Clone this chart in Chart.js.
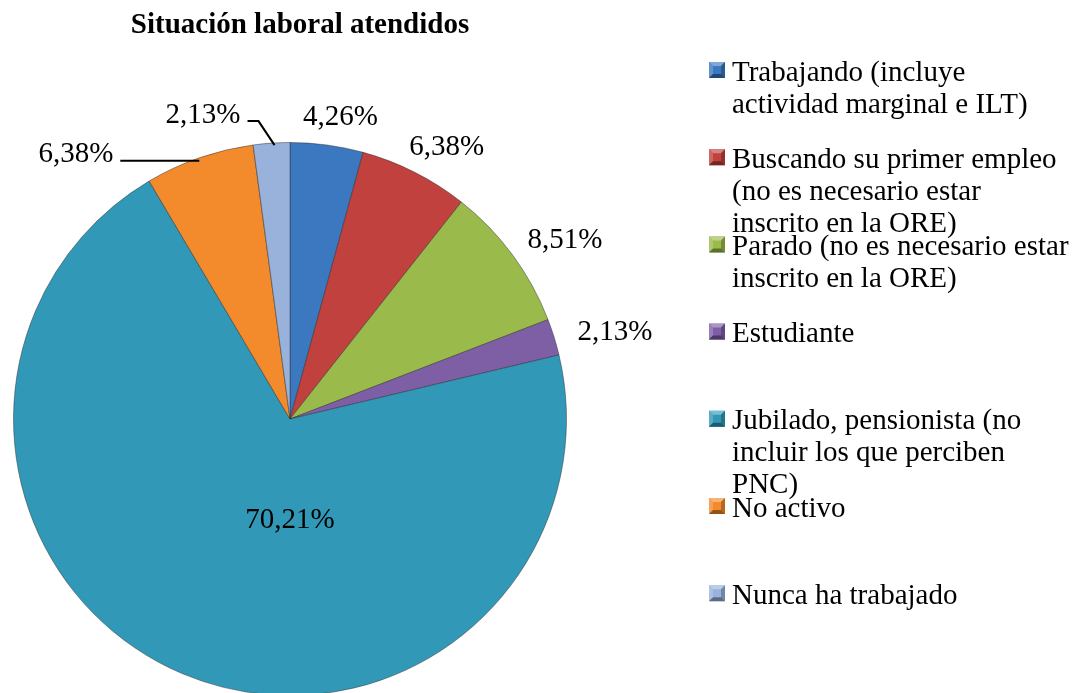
<!DOCTYPE html>
<html>
<head>
<meta charset="utf-8">
<script src="https://cdn.jsdelivr.net/npm/chart.js@4.4.0/dist/chart.umd.min.js"></script>
<style>
  html, body { margin: 0; padding: 0; background: #fff; overflow: hidden; }
  #wrap { position: relative; width: 1077px; height: 693px; overflow: hidden; }
  canvas { position: absolute; left: 0; top: 0; }
</style>
</head>
<body>
<div id="wrap"><canvas id="pie" width="1077" height="700"></canvas></div>
<script>
/* Situación laboral atendidos — pie with right-hand legend */

const title = 'Situación laboral atendidos';

const categories = [
  'Trabajando (incluye actividad marginal e ILT)',
  'Buscando su primer empleo (no es necesario estar inscrito en la ORE)',
  'Parado (no es necesario estar inscrito en la ORE)',
  'Estudiante',
  'Jubilado, pensionista (no incluir los que perciben PNC)',
  'No activo',
  'Nunca ha trabajado'
];

// legend text, broken the way the original wraps it
const legendLines = [
  ['Trabajando (incluye', 'actividad marginal e ILT)'],
  ['Buscando su primer empleo', '(no es necesario estar', 'inscrito en la ORE)'],
  ['Parado (no es necesario estar', 'inscrito en la ORE)'],
  ['Estudiante'],
  ['Jubilado, pensionista (no', 'incluir los que perciben', 'PNC)'],
  ['No activo'],
  ['Nunca ha trabajado']
];

const percents = [4.26, 6.38, 8.51, 2.13, 70.21, 6.38, 2.13];

const sliceColors = ['#3b78bf', '#c0413d', '#9aba4b', '#7e5fa5', '#3199b7', '#f38a2c', '#98b2dc'];

const SERIF = "'Liberation Serif', 'Times New Roman', serif";

function shade(hex, amt) {
  const n = parseInt(hex.slice(1), 16);
  let r = (n >> 16) & 255, g = (n >> 8) & 255, b = n & 255;
  const f = c => Math.max(0, Math.min(255, Math.round(amt > 0 ? c + (255 - c) * amt : c * (1 + amt))));
  return `rgb(${f(r)},${f(g)},${f(b)})`;
}

// outer rim bevel as a radial gradient
function sliceFill(ctx) {
  const chart = ctx.chart;
  const base = sliceColors[ctx.dataIndex];
  const arc = chart.getDatasetMeta(0).data[ctx.dataIndex];
  if (!arc || !arc.outerRadius) return base;
  const g = chart.ctx.createRadialGradient(arc.x, arc.y, 0, arc.x, arc.y, arc.outerRadius);
  g.addColorStop(0, shade(base, 0.04));
  g.addColorStop(0.93, base);
  g.addColorStop(0.965, shade(base, 0.2));
  g.addColorStop(1, shade(base, -0.25));
  return g;
}

const fmt = v => v.toFixed(2).replace('.', ',') + '%';

const decorations = {
  id: 'decorations',
  afterDatasetsDraw(chart) {
    const c = chart.ctx;
    const arcs = chart.getDatasetMeta(0).data;
    c.save();

    // title
    c.fillStyle = '#000';
    c.font = `bold 29px ${SERIF}`;
    c.textAlign = 'center';
    c.textBaseline = 'middle';
    c.fillText(title, 300, 26);

    // data labels
    c.font = `29px ${SERIF}`;
    arcs.forEach((arc, i) => {
      const mid = (arc.startAngle + arc.endAngle) / 2;
      const cos = Math.cos(mid), sin = Math.sin(mid);
      const r = arc.outerRadius;
      const txt = fmt(percents[i]);
      const w = c.measureText(txt).width;
      c.strokeStyle = '#000';
      c.lineWidth = 2;
      if (i <= 3) {
        const ax = arc.x + (r + 20) * cos, ay = arc.y + (r + 20) * sin;
        c.textAlign = 'center';
        c.fillText(txt, ax + (w / 2) * cos + 6, ay + 13 * sin + 5);
      } else if (i === 4) {
        c.textAlign = 'center';
        c.fillText(txt, arc.x, arc.y + 101);
      } else if (i === 5) {
        const ex = arc.x + r * cos, ey = arc.y + r * sin + 3;
        c.beginPath();
        c.moveTo(ex, ey);
        c.lineTo(ex - 79, ey);
        c.stroke();
        c.textAlign = 'right';
        c.fillText(txt, ex - 86, ey - 6);
      } else {
        const ex = arc.x + r * cos + 3, ey = arc.y + r * sin + 2;
        c.beginPath();
        c.moveTo(ex, ey);
        c.lineTo(ex - 16, ey - 24);
        c.lineTo(ex - 27, ey - 24);
        c.stroke();
        c.textAlign = 'right';
        c.fillText(txt, ex - 34, ey - 30);
      }
    });

    // legend
    const lx = 709, tx = 732, y0 = 70, step = 87.2, lh = 32, box = 16;
    c.textAlign = 'left';
    legendLines.forEach((lines, i) => {
      const yc = y0 + i * step;
      const col = sliceColors[i];
      const bx = lx, by = yc - box / 2;
      // bevelled square marker
      c.fillStyle = col;
      c.fillRect(bx, by, box, box);
      const tri = (pts, fill) => {
        c.beginPath();
        c.moveTo(pts[0], pts[1]);
        for (let k = 2; k < pts.length; k += 2) c.lineTo(pts[k], pts[k + 1]);
        c.closePath();
        c.fillStyle = fill;
        c.fill();
      };
      const m = 4;
      tri([bx, by, bx + box, by, bx + box - m, by + m, bx + m, by + m], shade(col, 0.35));
      tri([bx, by, bx + m, by + m, bx + m, by + box - m, bx, by + box], shade(col, 0.2));
      tri([bx + box, by, bx + box, by + box, bx + box - m, by + box - m, bx + box - m, by + m], shade(col, -0.25));
      tri([bx, by + box, bx + m, by + box - m, bx + box - m, by + box - m, bx + box, by + box], shade(col, -0.4));
      c.fillStyle = '#000';
      lines.forEach((ln, k) => c.fillText(ln, tx, yc + 3 + k * lh));
    });

    c.restore();
  }
};

new Chart(document.getElementById('pie'), {
  type: 'pie',
  data: {
    labels: categories,
    datasets: [{
      data: percents,
      backgroundColor: sliceFill,
      borderColor: 'rgba(40,40,40,0.45)',
      borderWidth: 1
    }]
  },
  options: {
    responsive: false,
    animation: false,
    layout: { padding: { left: 13, right: 510, top: 142, bottom: 4 } },
    plugins: {
      legend: { display: false },
      tooltip: { enabled: false }
    }
  },
  plugins: [decorations]
});
</script>
</body>
</html>
